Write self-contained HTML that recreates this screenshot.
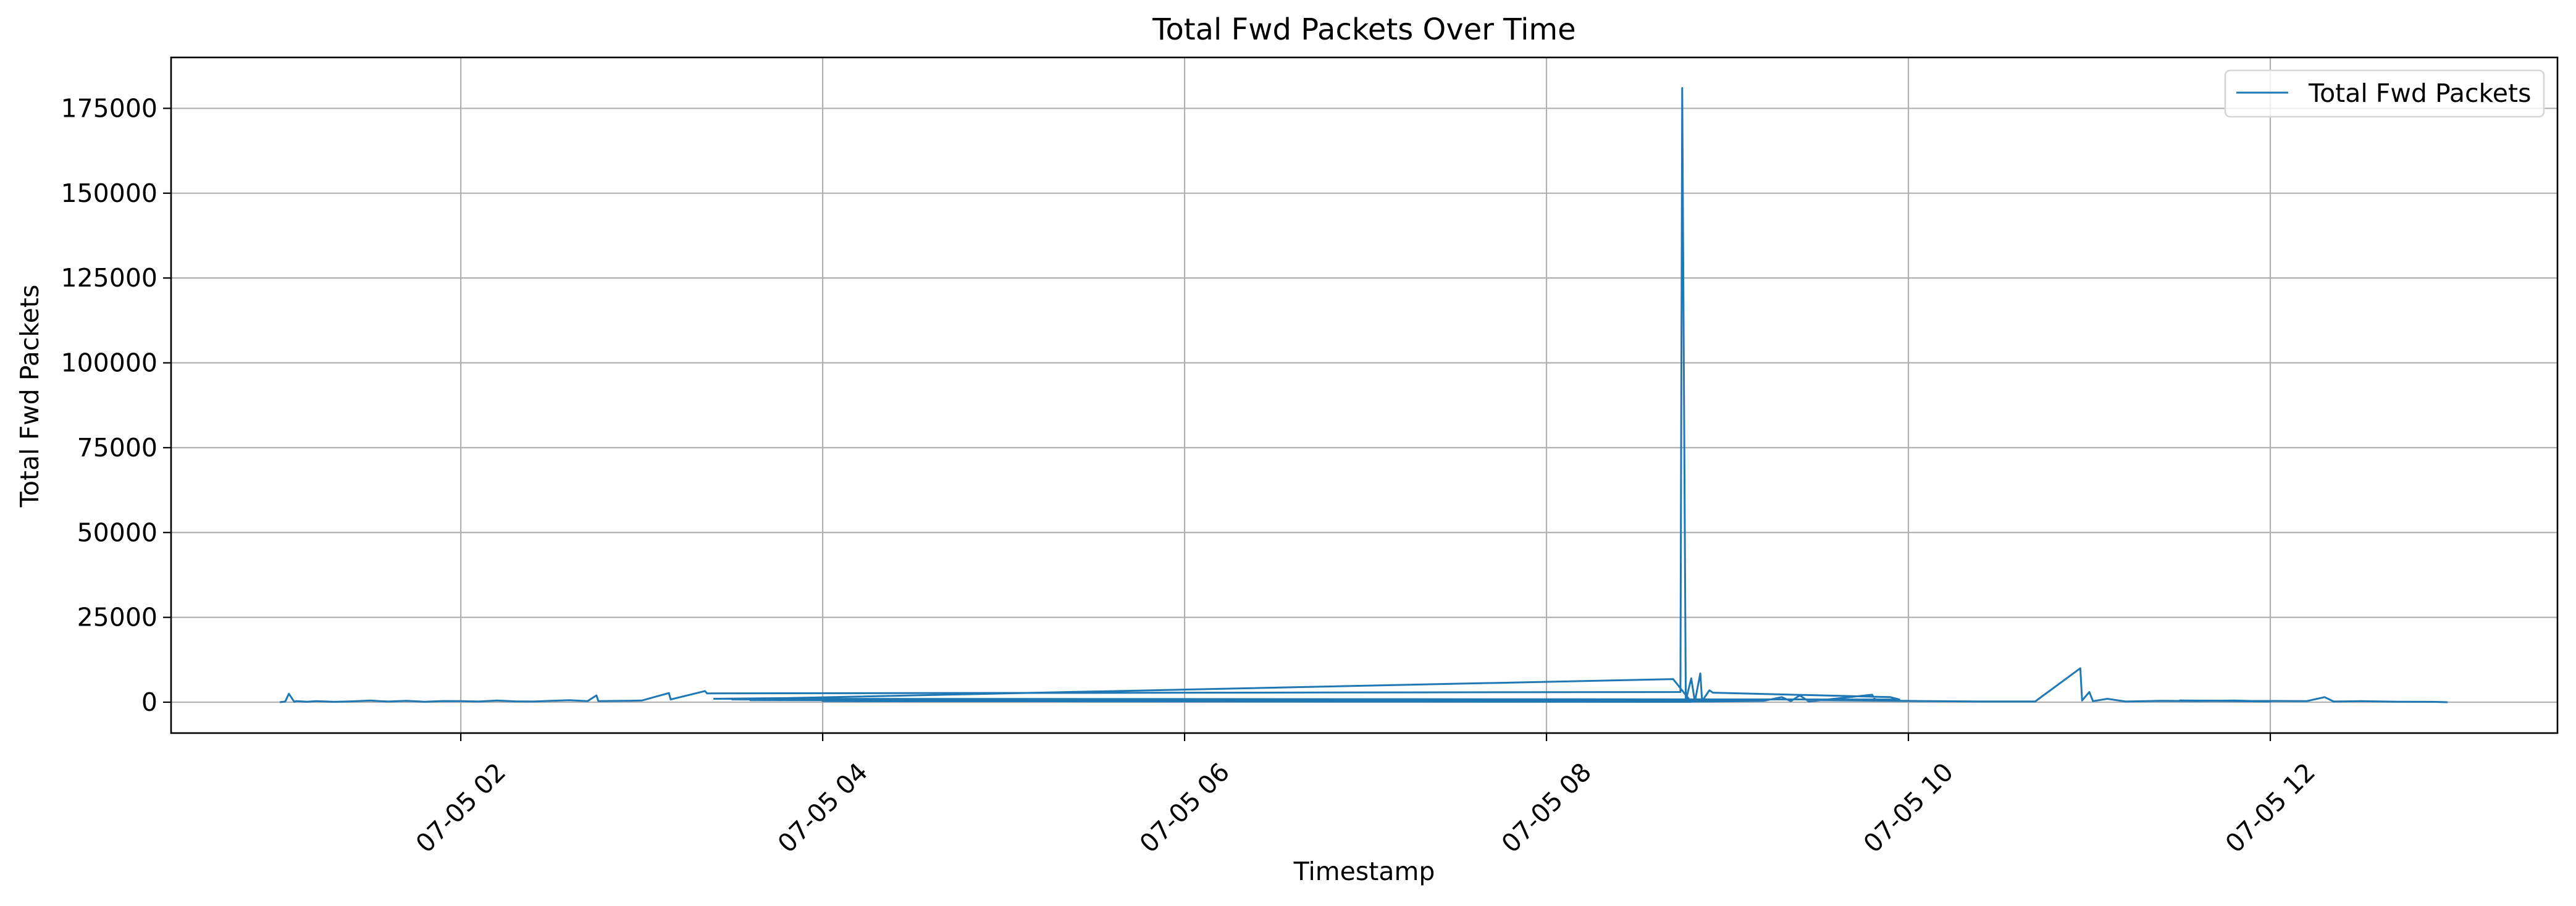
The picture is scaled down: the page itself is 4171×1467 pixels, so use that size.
<!DOCTYPE html>
<html><head><meta charset="utf-8"><style>
html,body{margin:0;padding:0;background:#fff;}
svg{display:block;font-family:"DejaVu Sans","Liberation Sans",sans-serif;}
</style></head><body>
<svg id="chart" width="4171" height="1467" viewBox="0 0 4171 1467" xmlns="http://www.w3.org/2000/svg">
<rect width="4171" height="1467" fill="#fff"/>
<g id="grid"></g>
<g id="series"></g>
<rect x="277" y="93" width="3864" height="1094" fill="none" stroke="#000" stroke-width="2.6"/>
<g id="axes"></g>
<text x="2209" y="64" font-size="48" text-anchor="middle">Total Fwd Packets Over Time</text>
<text x="2209" y="1425" font-size="41" text-anchor="middle">Timestamp</text>
<text x="62" y="641" font-size="41" text-anchor="middle" transform="rotate(-90 62 641)">Total Fwd Packets</text>
<g>
<rect x="3603" y="114" width="516" height="75" rx="8" fill="#fff" fill-opacity="0.8" stroke="#d6d6d6" stroke-width="2.6"/>
<line x1="3621" y1="150" x2="3705" y2="150" stroke="#1f77b4" stroke-width="3"/>
<text x="3738" y="165" font-size="41">Total Fwd Packets</text>
</g>
</svg>
<script>
const hours = [1.00,1.03,1.05,1.08,1.09,1.15,1.2,1.3,1.4,1.5,1.55,1.6,1.7,1.8,1.9,2.0,2.1,2.2,2.3,2.4,2.5,2.6,2.7,2.75,2.76,2.9,3.0,3.15,3.16,3.35,3.36,8.74,8.75,8.77,8.8,8.82,8.85,8.86,8.9,8.92,9.9,9.95,3.4,3.8,8.7,8.8,4.0,8.7,3.5,8.6,3.6,9.0,3.7,8.9,9.2,9.3,9.35,9.4,9.45,9.8,9.82,10.1,9.5,10.4,10.7,10.95,10.96,11.0,11.02,11.1,11.2,11.4,11.6,11.8,12.0,11.5,12.2,12.3,12.35,12.5,12.7,12.9,12.98];
const packets = [0,200,2500,100,300,150,300,100,250,500,300,200,400,150,350,300,200,500,250,200,400,600,300,2000,300,400,500,2700,800,3300,2600,3000,181000,500,7000,200,8500,300,3500,2800,1500,800,1000,1200,6800,100,300,500,800,300,600,400,900,200,400,1500,300,2000,200,2200,500,300,600,200,200,10000,500,3000,300,1000,200,400,300,500,200,500,300,1500,200,300,150,100,0];
const yTicks = [0,25000,50000,75000,100000,125000,150000,175000];
const xTickHours = [2,4,6,8,10,12];
const xTickLabels = ["07-05 02","07-05 04","07-05 06","07-05 08","07-05 10","07-05 12"];

const L=277,R=4141,T=93,B=1187;
const xMin=0.399,xMax=13.587,yMin=-9100,yMax=190000;
const xs=h=>L+(h-xMin)/(xMax-xMin)*(R-L);
const ys=v=>B-(v-yMin)/(yMax-yMin)*(B-T);
const NS="http://www.w3.org/2000/svg";
const grid=document.getElementById('grid'),axes=document.getElementById('axes'),series=document.getElementById('series');
function mk(tag,attrs,parent){const e=document.createElementNS(NS,tag);for(const k in attrs)e.setAttribute(k,attrs[k]);parent.appendChild(e);return e;}
yTicks.forEach(v=>{
  const y=ys(v);
  const g=mk('line',{x1:L,x2:R,y1:y,y2:y,stroke:'#b0b0b0','stroke-width':2.2},grid);
  
  
  const t=mk('line',{x1:L-13,x2:L,y1:y,y2:y,stroke:'#000','stroke-width':2.2},axes);
  
  
  const tx=mk('text',{x:L-22,y:y+14,'font-size':41,'text-anchor':'end'},axes);
  
  
  tx.textContent=String(v);
});
xTickHours.forEach((h,i)=>{
  const x=xs(h);
  const g=mk('line',{x1:x,x2:x,y1:T,y2:B,stroke:'#b0b0b0','stroke-width':2.2},grid);
  
  
  const t=mk('line',{x1:x,x2:x,y1:B,y2:B+13,stroke:'#000','stroke-width':2.2},axes);
  
  
  const cy=1308;
  const tx=mk('text',{x:x,y:cy+14,'font-size':41,'text-anchor':'middle',transform:`rotate(-45 ${x} ${cy})`},axes);
  
  
  tx.textContent=xTickLabels[i];
});
const pts=hours.map((h,i)=>xs(h).toFixed(1)+','+ys(packets[i]).toFixed(1)).join(' ');
const pl=mk('polyline',{points:pts,fill:'none',stroke:'#1f77b4','stroke-width':3,'stroke-linejoin':'round'},series);


</script>
</body></html>
